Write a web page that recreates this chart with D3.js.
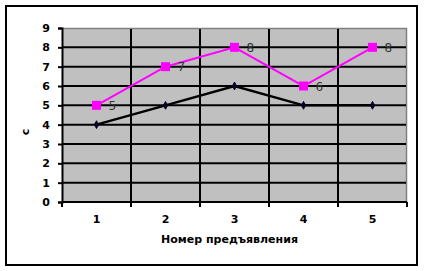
<!DOCTYPE html>
<meta charset="utf-8">
<style>
  body { margin: 0; background: #fff; }
  .tick text { font-family: "DejaVu Sans", sans-serif; font-size: 11px; font-weight: bold; fill: #000; }
  .lbl { font-family: "DejaVu Sans", sans-serif; font-size: 12px; fill: #333; }
  .title { font-family: "DejaVu Sans", sans-serif; font-size: 11px; font-weight: bold; }
</style>
<svg width="424" height="271"></svg>
<script src="https://d3js.org/d3.v7.min.js"></script>
<script>
var categories = ["1", "2", "3", "4", "5"];
var pinkValues = [5, 7, 8, 6, 8];
var blackValues = [4, 5, 6, 5, 5];
var yTicks = [0, 1, 2, 3, 4, 5, 6, 7, 8, 9];

var svg = d3.select("svg");
var pLeft = 62, pTop = 28, pRight = 407, pBottom = 202;

// outer frame
svg.append("rect")
    .attr("x", 6).attr("y", 6)
    .attr("width", 411).attr("height", 259)
    .attr("fill", "#fff").attr("stroke", "#000").attr("stroke-width", 2);

var x = d3.scaleBand().domain(categories).range([pLeft, pRight]);
var y = d3.scaleLinear().domain([0, 9]).range([pBottom, pTop]);

// plot area
svg.append("rect")
    .attr("x", pLeft).attr("y", pTop)
    .attr("width", pRight - pLeft).attr("height", pBottom - pTop)
    .attr("fill", "#c0c0c0");
svg.append("path")
    .attr("d", "M" + pLeft + "," + (pTop + 0.5) + "H" + (pRight - 0.5) + "V" + pBottom)
    .attr("fill", "none").attr("stroke", "#808080").attr("stroke-width", 1.5);

// gridlines
svg.append("g").selectAll("line")
    .data(yTicks.slice(1, -1))
    .enter().append("line")
    .attr("x1", pLeft).attr("x2", pRight - 1)
    .attr("y1", function(d) { return y(d); }).attr("y2", function(d) { return y(d); })
    .attr("stroke", "#000").attr("stroke-width", 2);
svg.append("g").selectAll("line")
    .data(categories.slice(1))
    .enter().append("line")
    .attr("x1", function(d) { return x(d); }).attr("x2", function(d) { return x(d); })
    .attr("y1", pTop + 1).attr("y2", pBottom)
    .attr("stroke", "#000").attr("stroke-width", 2);

// axes
var yAxis = svg.append("g")
    .attr("transform", "translate(" + pLeft + ",0)")
    .call(d3.axisLeft(y).tickValues(yTicks).tickSize(4).tickPadding(8));
yAxis.select(".domain").attr("stroke-width", 2);
yAxis.selectAll(".tick line").attr("stroke-width", 2);

var xAxis = svg.append("g")
    .attr("transform", "translate(0," + pBottom + ")")
    .call(d3.axisBottom(x).tickSize(0).tickPadding(13));
xAxis.select(".domain").attr("stroke-width", 2).attr("d", "M" + pLeft + ",0H" + pRight);
xAxis.append("g").selectAll("line")
    .data(categories.concat(["end"]))
    .enter().append("line")
    .attr("x1", function(d, i) { return i < categories.length ? x(d) : pRight; })
    .attr("x2", function(d, i) { return i < categories.length ? x(d) : pRight; })
    .attr("y1", 0).attr("y2", 5)
    .attr("stroke", "#000").attr("stroke-width", 2);

svg.append("text").attr("class", "title")
    .attr("x", (pLeft + pRight) / 2 - 5).attr("y", 243)
    .attr("text-anchor", "middle")
    .text("Номер предъявления");
svg.append("text").attr("class", "title")
    .attr("transform", "translate(29,132) rotate(-90)")
    .attr("text-anchor", "middle")
    .text("с");

var cx = function(d, i) { return x(categories[i]) + x.bandwidth() / 2; };
var line = d3.line().x(cx).y(function(d) { return y(d); });

// black series
svg.append("path").datum(blackValues)
    .attr("d", line).attr("fill", "none")
    .attr("stroke", "#000").attr("stroke-width", 2.5);
svg.append("g").selectAll("path")
    .data(blackValues).enter().append("path")
    .attr("transform", function(d, i) { return "translate(" + cx(d, i) + "," + y(d) + ")"; })
    .attr("d", d3.symbol().type(d3.symbolDiamond).size(18))
    .attr("fill", "#000040").attr("stroke", "#000").attr("stroke-width", 0.8);

// pink series
svg.append("path").datum(pinkValues)
    .attr("d", line).attr("fill", "none")
    .attr("stroke", "#ff00ff").attr("stroke-width", 2);
svg.append("g").selectAll("rect")
    .data(pinkValues).enter().append("rect")
    .attr("x", function(d, i) { return cx(d, i) - 4.5; })
    .attr("y", function(d) { return y(d) - 4.5; })
    .attr("width", 9).attr("height", 9)
    .attr("fill", "#ff00ff");
svg.append("g").selectAll("text")
    .data(pinkValues).enter().append("text")
    .attr("class", "lbl")
    .attr("x", function(d, i) { return cx(d, i) + 12; })
    .attr("y", function(d) { return y(d) + 4.5; })
    .text(function(d) { return d; });
</script>
